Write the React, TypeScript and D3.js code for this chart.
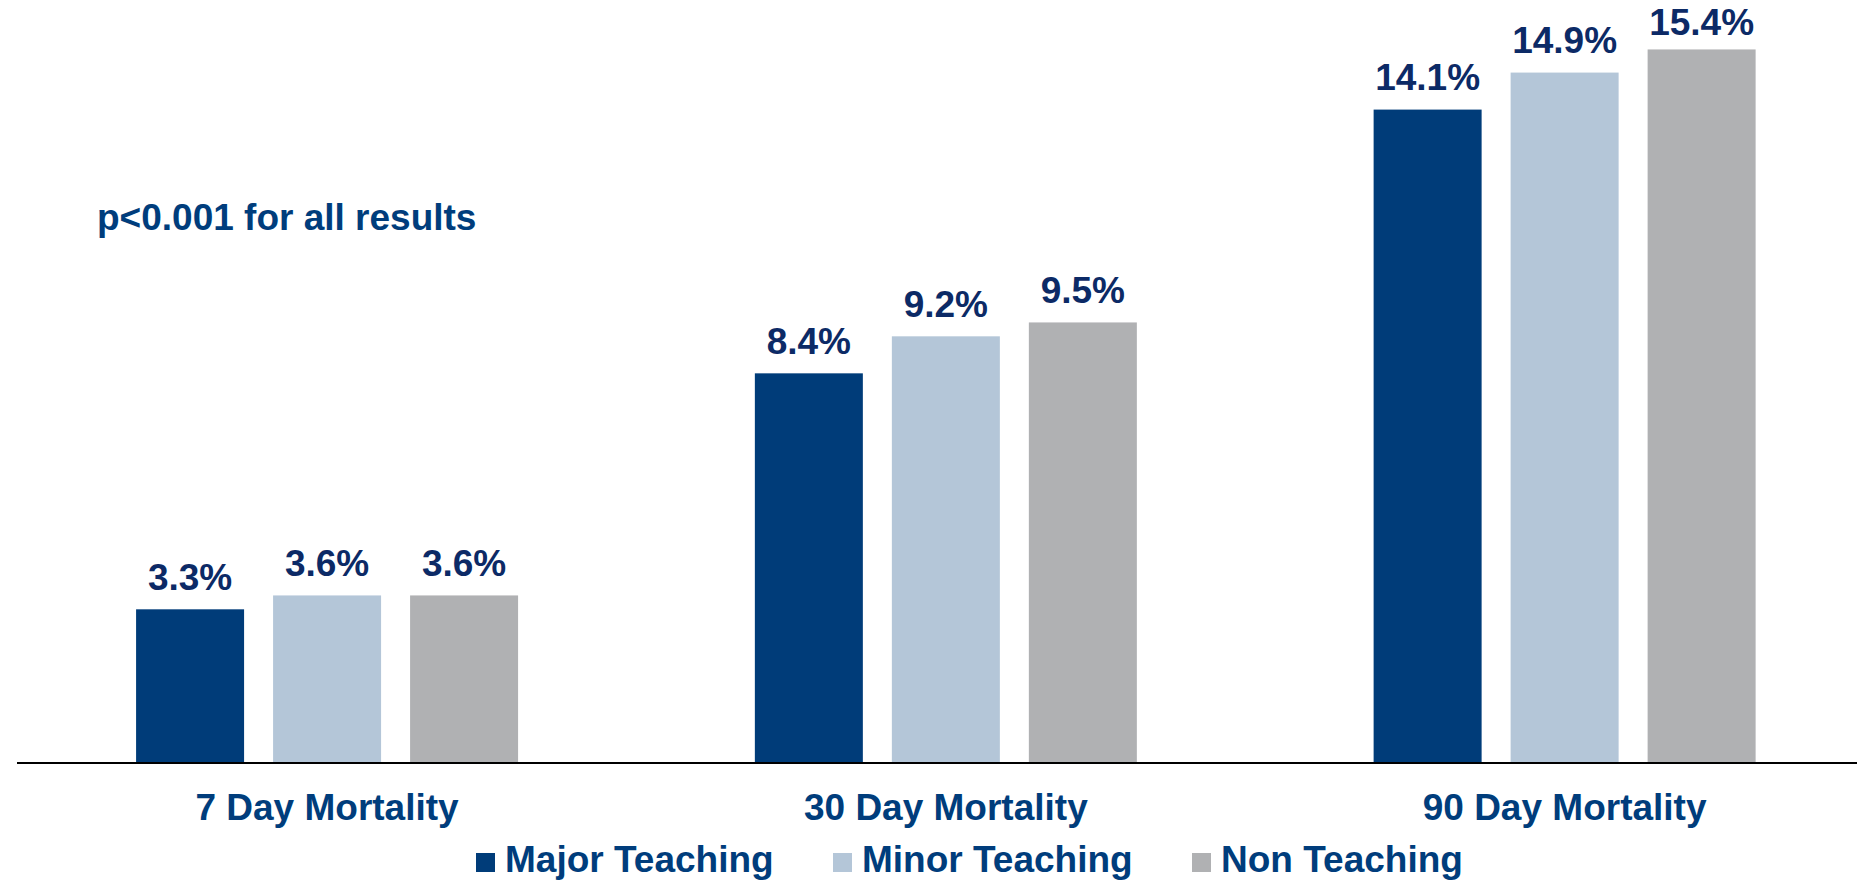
import React from "react";
import * as d3 from "d3";

const categories = ["7 Day Mortality", "30 Day Mortality", "90 Day Mortality"];
const seriesNames = ["Major Teaching", "Minor Teaching", "Non Teaching"];
const majorTeaching = [3.3, 8.4, 14.1];
const minorTeaching = [3.6, 9.2, 14.9];
const nonTeaching = [3.6, 9.5, 15.4];
const seriesColors = ["#003c79", "#b4c6d8", "#b0b1b3"];
const note = "p<0.001 for all results";

const W = 1857;
const H = 883;
const FONT = "'Liberation Sans', Arial, Helvetica, sans-serif";

export default function App() {
  const series = [majorTeaching, minorTeaching, nonTeaching];
  const baseY = 762;
  const y = d3.scaleLinear().domain([0, 16]).range([baseY, baseY - 16 * 46.27]);
  const x0 = d3.scaleBand<string>().domain(categories).range([17.7, 1874]).padding(0);
  const innerW = 382;
  const x1 = d3
    .scaleBand<string>()
    .domain(seriesNames)
    .range([0, innerW])
    .paddingInner(29 / 137)
    .paddingOuter(0);

  const legendX = [476, 833, 1192];

  return (
    <svg
      width={W}
      height={H}
      style={{ position: "absolute", left: 0, top: 0, display: "block", background: "#fff" }}
      fontFamily={FONT}
      fontWeight="bold"
    >
      {categories.map((c, ci) => {
        const gx = (x0(c) as number) + x0.bandwidth() / 2 - innerW / 2;
        return (
          <g key={c}>
            {seriesNames.map((s, si) => {
              const v = series[si][ci];
              const bx = gx + (x1(s) as number);
              return (
                <g key={s}>
                  <rect
                    x={bx}
                    y={y(v)}
                    width={x1.bandwidth()}
                    height={baseY - y(v)}
                    fill={seriesColors[si]}
                  />
                  <text
                    x={bx + x1.bandwidth() / 2}
                    y={Math.max(y(v) - 19.5, 35)}
                    textAnchor="middle"
                    fontSize={37}
                    fill="#0c2a66"
                  >
                    {v.toFixed(1)}%
                  </text>
                </g>
              );
            })}
            <text
              x={(x0(c) as number) + x0.bandwidth() / 2}
              y={820}
              textAnchor="middle"
              fontSize={37}
              fill="#003d7c"
            >
              {c}
            </text>
          </g>
        );
      })}
      <line x1={17} x2={W} y1={763} y2={763} stroke="#000" strokeWidth={2} />
      <text x={97} y={230} fontSize={37} fill="#003d7c">
        {note}
      </text>
      {seriesNames.map((s, si) => (
        <g key={s}>
          <rect x={legendX[si]} y={853} width={19} height={19} fill={seriesColors[si]} />
          <text x={legendX[si] + 29} y={872} fontSize={37} fill="#003d7c">
            {s}
          </text>
        </g>
      ))}
    </svg>
  );
}
